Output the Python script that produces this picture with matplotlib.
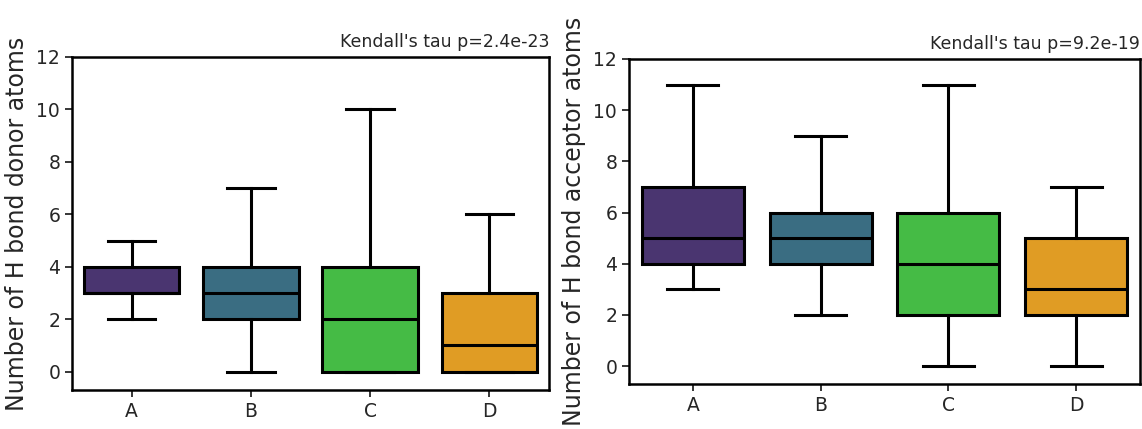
import matplotlib.pyplot as plt

plt.rcParams.update({
    "font.family": "DejaVu Sans",
    "text.color": "#262626",
    "xtick.color": "#262626",
    "ytick.color": "#262626",
    "axes.labelcolor": "#262626",
})

groups = ['A', 'B', 'C', 'D']
colors = ['#4a3570', '#3a6d82', '#45bb45', '#e09c24']

# donor atoms: lower whisker, q1, median, q3, upper whisker
donor_lo = [2, 0, 0, 0]
donor_q1 = [3, 2, 0, 0]
donor_med = [3, 3, 2, 1]
donor_q3 = [4, 4, 4, 3]
donor_hi = [5, 7, 10, 6]
donor_p = "Kendall's tau p=2.4e-23"

# acceptor atoms
acc_lo = [3, 2, 0, 0]
acc_q1 = [4, 4, 2, 2]
acc_med = [5, 5, 4, 3]
acc_q3 = [7, 6, 6, 5]
acc_hi = [11, 9, 11, 7]
acc_p = "Kendall's tau p=9.2e-19"


def make_stats(lo, q1, med, q3, hi):
    return [dict(label=g, whislo=a, q1=b, med=c, q3=d, whishi=e, fliers=[])
            for g, a, b, c, d, e in zip(groups, lo, q1, med, q3, hi)]


def draw(ax, stats, ylabel, ptext):
    lw = 2.2
    bp = ax.bxp(stats, positions=range(len(groups)), widths=0.8, patch_artist=True,
                showfliers=False,
                boxprops=dict(linewidth=lw, edgecolor='black'),
                medianprops=dict(color='black', linewidth=lw),
                whiskerprops=dict(color='black', linewidth=lw),
                capprops=dict(color='black', linewidth=lw))
    for patch, c in zip(bp['boxes'], colors):
        patch.set_facecolor(c)
    ax.set_xlim(-0.5, len(groups) - 0.5)
    ax.set_ylim(-0.7, 12)
    ax.set_yticks(range(0, 13, 2))
    ax.set_xticks(range(len(groups)))
    ax.set_xticklabels(groups)
    ax.tick_params(labelsize=13.5, width=1.3, length=5)
    for s in ax.spines.values():
        s.set_linewidth(1.8)
    ax.set_ylabel(ylabel, fontsize=17, labelpad=5)
    ax.set_title(ptext, loc='right', fontsize=12.5, pad=7)


fig = plt.figure(figsize=(11.42, 4.29), dpi=100)
ax1 = fig.add_axes([72 / 1142, 1 - 390 / 429, 477 / 1142, 333 / 429])
ax2 = fig.add_axes([629 / 1142, 1 - 384 / 429, 511 / 1142, 325 / 429])

draw(ax1, make_stats(donor_lo, donor_q1, donor_med, donor_q3, donor_hi),
     'Number of H bond donor atoms', donor_p)
draw(ax2, make_stats(acc_lo, acc_q1, acc_med, acc_q3, acc_hi),
     'Number of H bond acceptor atoms', acc_p)

fig.savefig('out.png', dpi=100)
